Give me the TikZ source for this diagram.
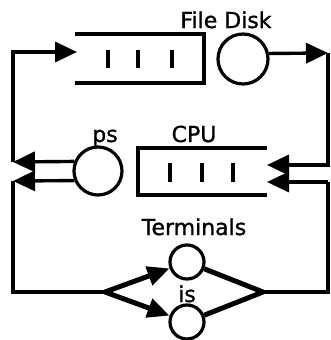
\documentclass[tikz,border=0pt]{standalone}
\usepackage{fontspec}
\setmainfont[FakeBold=1.2]{DejaVu Sans}
\usetikzlibrary{arrows.meta}
\tikzset{
  conn/.style={line width=3.4pt},
  arr/.style={conn,-{Triangle[length=22pt,width=20pt]}},
  qline/.style={line width=4pt},
  qbar/.style={line width=4.5pt},
  station/.style={draw,circle,line width=3.2pt,inner sep=0pt},
  lbl/.style={font=\fontsize{22}{25}\selectfont,anchor=base,inner sep=0pt},
  diag/.style={line width=5pt},
  darr/.style={diag,-{Triangle[length=22pt,width=19pt]}}
}
\begin{document}
\begin{tikzpicture}[x=1pt,y=-1pt]
\useasboundingbox (0,0) rectangle (331,340);
% top queue (File Disk queue)
\coordinate (tq) at (77,52);
\draw[qline] (75,34) -- (204,34) -- (204,83) -- (75,83);
\foreach \x in {108,138,172} \draw[qbar] (\x,50) -- (\x,68);
\node[station,minimum size=50pt] (fd) at (243,59) {};
\node[lbl] (fdl) at (226,28) {File Disk};
% CPU queue
\coordinate (cq1) at (267,165);
\coordinate (cq2) at (267,182);
\draw[qline] (267,148) -- (138,148) -- (138,195) -- (267,195);
\foreach \x in {170,202,233} \draw[qbar] (\x,163) -- (\x,182);
\node[lbl] (cpul) at (194,142) {CPU};
% ps
\node[station,minimum size=48pt] (ps) at (98,171) {};
\node[lbl] (psl) at (105,142) {ps};
% terminals
\node[station,minimum size=34pt] (tu) at (187,262) {};
\node[station,minimum size=34pt] (tl) at (187,322) {};
\node[lbl] (terml) at (194,235) {Terminals};
\node[lbl] (isl) at (187,302) {is};
% corners
\coordinate (lu) at (13,162);
\coordinate (ll) at (13,181);
\coordinate (ru) at (328,53);
\coordinate (rl) at (328,182);
\coordinate (L) at (105,292);
\coordinate (R) at (263,292);
% connectors
\draw[arr] (fd.12) -- (ru);
\draw[arr] (ru) |- (cq1);
\draw[arr] (ps.158) -- (lu);
\draw[arr] (lu) |- (tq);
\draw[arr] (ps.202) -- (ll);
\draw[conn] (ll) |- (L);
\draw[darr] (L) -- (tu);
\draw[darr] (L) -- (tl);
\draw[diag] (tu) -- (R);
\draw[diag] (tl) -- (R);
\draw[conn] (R) -| (rl);
\draw[arr] (rl) -- (cq2);
\end{tikzpicture}
\end{document}
